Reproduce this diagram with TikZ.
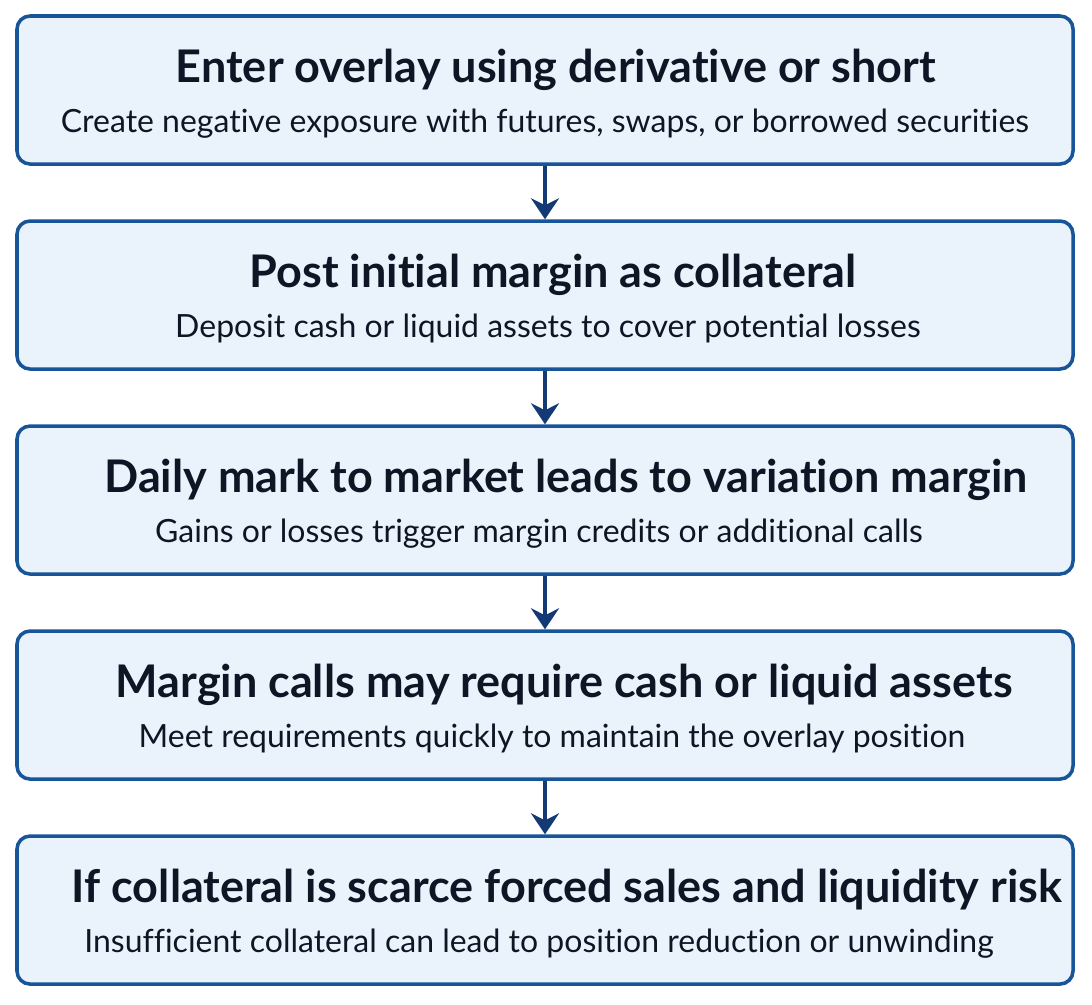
\documentclass[tikz,border=0pt]{standalone}
\usepackage{fontspec}
\setmainfont{Lato}[Ligatures=NoCommon]
\usetikzlibrary{positioning,arrows.meta}
\definecolor{boxline}{RGB}{24,84,152}
\definecolor{boxfill}{RGB}{234,243,252}
\definecolor{flowline}{RGB}{20,58,118}
\definecolor{textdark}{RGB}{14,22,38}
\tikzset{
  stepbox/.style={draw=boxline, fill=boxfill, line width=1pt, rounded corners=3.7pt,
    minimum width=10.56cm, minimum height=1.48cm, inner sep=0pt},
  headtext/.style={font=\bfseries\fontsize{12.8}{15}\selectfont, text=textdark, anchor=base, inner sep=0pt},
  subtext/.style={font=\fontsize{9.1}{11}\selectfont, text=textdark, anchor=base, inner sep=0pt},
  flow/.style={draw=flowline, line width=1pt, -{Stealth[length=2.1mm,width=2.8mm,inset=0.7mm]}}
}
\begin{document}
\begin{tikzpicture}
	\useasboundingbox (0,0) rectangle (10.92,-10.04);
	\node (s1) [stepbox] at (5.45,-0.90) {};
	\node (s2) [stepbox, below=0.535cm of s1] {};
	\node (s3) [stepbox, below=0.535cm of s2] {};
	\node (s4) [stepbox, below=0.535cm of s3] {};
	\node (s5) [stepbox, below=0.535cm of s4] {};
	%
	\foreach \n/\hx/\sx/\head/\sub in {
			s1/0.11/0.00/{Enter overlay using derivative or short}/{Create negative exposure with futures, swaps, or borrowed securities},
			s2/0.08/0.03/{Post initial margin as collateral}/{Deposit cash or liquid assets to cover potential losses},
			s3/0.21/-0.06/{Daily mark to market leads to variation margin}/{Gains or losses trigger margin credits or additional calls},
			s4/0.19/0.07/{Margin calls may require cash or liquid assets}/{Meet requirements quickly to maintain the overlay position},
			s5/0.22/-0.06/{If collateral is scarce forced sales and liquidity risk}/{Insufficient collateral can lead to position reduction or unwinding}}{
			\node (\n h) [headtext] at ([xshift=\hx cm, yshift=0.08cm]\n.center) {\head};
			\node (\n s) [subtext] at ([xshift=\sx cm, yshift=-0.42cm]\n.center) {\sub};
		}
	%
	\foreach \a/\b in {s1/s2,s2/s3,s3/s4,s4/s5}{
			\draw[flow] (\a.south) -- (\b.north);
		}
\end{tikzpicture}
\end{document}
